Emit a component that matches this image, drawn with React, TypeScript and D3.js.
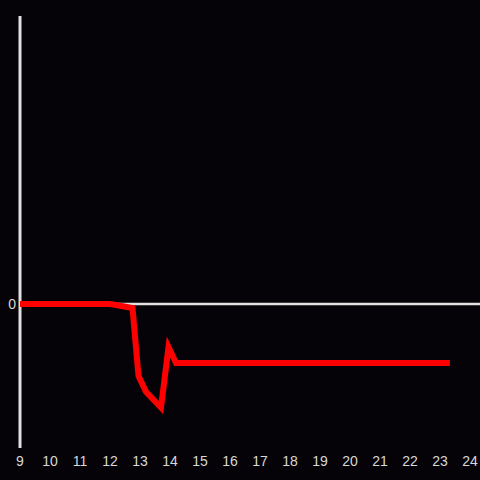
import React from "react";
import * as d3 from "d3";

const hours = [9, 10, 11, 12, 12.3, 12.75, 12.95, 13.2, 13.7, 13.95, 14.2, 15, 16, 17, 18, 19, 20, 21, 22, 23, 23.33];
const values = [0, 0, 0, 0, -0.05, -0.14, -2.5, -3.05, -3.6, -1.5, -2.05, -2.05, -2.05, -2.05, -2.05, -2.05, -2.05, -2.05, -2.05, -2.05, -2.05];
const xTicks = [9, 10, 11, 12, 13, 14, 15, 16, 17, 18, 19, 20, 21, 22, 23, 24];
const yTicks = [0];

const W = 480, H = 480;

export default function App() {
  const x = d3.scaleLinear().domain([9, 24]).range([20, 470]);
  const y = d3.scaleLinear().domain([-5, 10]).range([448, 16]);
  const line = d3.line<number>().x((_, i) => x(hours[i])).y((d) => y(d));
  return (
    <svg width={W} height={H} style={{ position: "absolute", left: 0, top: 0, background: "#050307" }}>
      <rect x={0} y={0} width={W} height={H} fill="#050307" />
      <line x1={x(9)} x2={W} y1={y(0)} y2={y(0)} stroke="#e0e0e0" strokeWidth={2.5} />
      <line x1={x(9)} x2={x(9)} y1={16} y2={448} stroke="#e0e0e0" strokeWidth={3} />
      {yTicks.map((t) => (
        <text key={t} x={x(9) - 4} y={y(t)} dy="0.35em" textAnchor="end" fill="#d8d8d8" fontSize={14} fontFamily="Liberation Sans, Arial, sans-serif">{t}</text>
      ))}
      {xTicks.map((t) => (
        <text key={t} x={x(t)} y={466} textAnchor="middle" fill="#d8d8d8" fontSize={14} fontFamily="Liberation Sans, Arial, sans-serif">{t}</text>
      ))}
      <path d={line(values) || ""} fill="none" stroke="#ff0000" strokeWidth={6} />
    </svg>
  );
}
